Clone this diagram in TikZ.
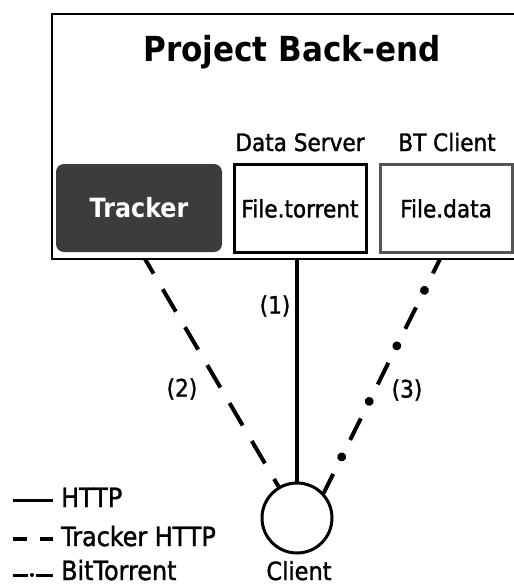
\documentclass[tikz,border=0pt]{standalone}
\usepackage{fontspec}
\setmainfont{DejaVu Sans}[FakeStretch=0.9]
\newfontfamily\medfont{DejaVu Sans}[FakeStretch=0.9,FakeBold=1.4]
\usetikzlibrary{decorations.markings}
\definecolor{trackergray}{HTML}{3C3C3C}
\definecolor{boxgray}{HTML}{555555}

\begin{document}
\begin{tikzpicture}[x=1pt,y=-1pt,
  txt/.style={font=\medfont\fontsize{24}{28}\selectfont,inner sep=0pt},
  legtxt/.style={font=\medfont\fontsize{26.5}{30}\selectfont,inner sep=0pt,anchor=base west},
  filebox/.style={draw,line width=3pt,minimum width=132pt,minimum height=88pt,inner sep=0pt,txt},
  http/.style={line width=4pt},
  trackerhttp/.style={line width=4pt,dash pattern=on 26pt off 18pt,dash phase=9pt},
  bittorrent/.style={line width=4pt,dash pattern=on 24pt off 38pt,dash phase=8pt,
    postaction={decorate,decoration={markings,
      mark=between positions 35pt and -10pt step 62pt with {\fill (0,0) circle (4.5pt);}}}}]
\useasboundingbox (0,0) rectangle (514,587);
% back-end box
\node[draw,line width=2pt,minimum width=466pt,minimum height=245pt,inner sep=0pt] (backend) at (285,136.5) {};
\node[font=\fontsize{34.5}{40}\selectfont\bfseries,anchor=base,inner sep=0pt] (title) at (292,61) {Project Back-end};
\node[txt,anchor=base] (server) at (300,151) {Data Server};
\node[txt,anchor=base] (btclient) at (447,151) {BT Client};
\node[fill=trackergray,rounded corners=8pt,minimum width=166pt,minimum height=88pt,text=white,
  font=\fontsize{26.5}{30}\selectfont\bfseries] (tracker) at (139,208) {Tracker};
\node[filebox] (torrent) at (300,208.5) {File.torrent};
\node[filebox,draw=boxgray] (data) at (446,208.5) {File.data};
% client
\node[draw,circle,line width=3pt,minimum size=70pt,inner sep=0pt] (client) at (297,518) {};
\node[txt,font=\medfont\fontsize{25}{30}\selectfont,anchor=base] (clientlabel) at (299,580) {Client};
% connections
\coordinate (pa) at (backend.south -| client);
\coordinate (pb) at (145,259);
\coordinate (pc) at (440,259);
\draw[http] (pa) -- (client);
\draw[trackerhttp] (pb) -- (client);
\draw[bittorrent] (pc) -- (client.43);
\node[txt] (l1) at (275,306) {(1)};
\node[txt] (l2) at (182,389) {(2)};
\node[txt] (l3) at (407,390) {(3)};
% legend
\coordinate (h1) at (13,500); \coordinate (h2) at (53,500);
\coordinate (t1) at (13,539); \coordinate (t2) at (53,539);
\coordinate (b1) at (13,575); \coordinate (b2) at (53,575);
\draw[line width=3pt] (h1) -- (h2);
\draw[line width=3.5pt,dash pattern=on 14pt off 13pt] (t1) -- (t2);
\draw[line width=3pt,dash pattern=on 15pt off 8pt on 17pt off 10pt,
  postaction={decorate,decoration={markings,mark=at position 19pt with {\fill (0,0) circle (2pt);}}}] (b1) -- (b2);
\node[legtxt] (lhttp) at (61,507) {HTTP};
\node[legtxt] (ltracker) at (61,546) {Tracker HTTP};
\node[legtxt] (lbt) at (61,580) {BitTorrent};
\end{tikzpicture}
\end{document}
